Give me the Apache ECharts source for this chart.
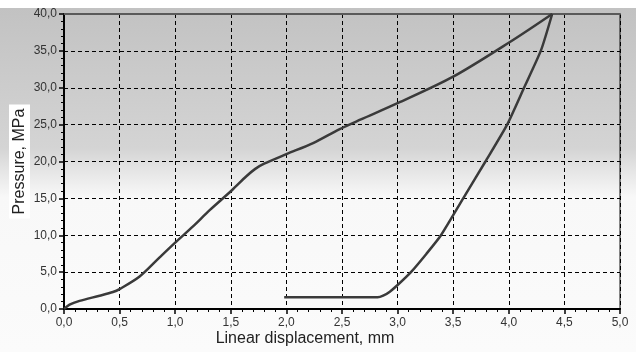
<!DOCTYPE html>
<html>
<head>
<meta charset="utf-8">
<script src="https://cdn.jsdelivr.net/npm/echarts@6/dist/echarts.min.js"></script>
<style>
  html, body { margin: 0; padding: 0; background: #fff; }
  #chart { width: 636px; height: 352px; }
</style>
</head>
<body>
<div id="chart"></div>
<script>
// loading branch: displacement (mm), pressure (MPa)
const loadX = [0.0, 0.05, 0.14, 0.32, 0.44, 0.50, 0.68, 0.86, 1.00, 1.16, 1.31, 1.51, 1.64, 1.72, 1.80, 2.00, 2.24, 2.48, 2.67, 3.00, 3.50, 4.01, 4.39]
const loadY = [0.0, 0.6, 1.1, 1.8, 2.3, 2.7, 4.4, 7.0, 9.0, 11.2, 13.4, 16.1, 18.0, 19.0, 19.7, 21.0, 22.5, 24.4, 25.7, 27.9, 31.5, 36.2, 40.0]
// unloading branch
const unloadX = [4.39, 4.29, 4.14, 3.985, 3.79, 3.59, 3.39, 3.26, 3.12, 3.00, 2.93, 2.87, 2.82, 1.98]
const unloadY = [40.0, 35.1, 30.1, 25.0, 20.0, 15.0, 10.0, 7.5, 5.0, 3.25, 2.35, 1.8, 1.58, 1.58]

const xName = 'Linear displacement, mm'
const yName = 'Pressure, MPa'

// 逗号小数
const fmtComma = v => v.toFixed(1).replace('.', ',')
const loadPts = loadX.map((x, i) => [x, loadY[i]])
const unloadPts = unloadX.map((x, i) => [x, unloadY[i]])

const lineSeries = (data, s) => ({
  type: 'line',
  data: data,
  showSymbol: false,
  smooth: s,
  lineStyle: { color: '#3a3a3a', width: 2.5 },
  z: 5
})

const chart = echarts.init(document.getElementById('chart'))
chart.setOption({
  animation: false,
  backgroundColor: {
    type: 'linear', x: 0, y: 0, x2: 0, y2: 1,
    colorStops: [
      { offset: 0, color: '#ffffff' },
      { offset: 0.022, color: '#ffffff' },
      { offset: 0.023, color: '#c2c2c2' },
      { offset: 0.42, color: '#d4d4d4' },
      { offset: 0.48, color: '#e4e4e4' },
      { offset: 0.56, color: '#f8f8f8' },
      { offset: 1, color: '#fbfbfb' }
    ]
  },
  grid: {
    left: 64, right: 16, top: 14, bottom: 43,
    containLabel: false, outerBoundsMode: 'none',
    show: true, borderColor: '#111', borderWidth: 1
  },
  xAxis: [{
    type: 'value', min: 0, max: 5, interval: 0.5,
    name: xName, nameLocation: 'middle', nameGap: 22, nameMoveOverlap: false,
    nameTextStyle: { fontFamily: 'Liberation Sans', fontSize: 16, color: '#222', padding: [0, 74, 0, 0] },
    axisLine: { lineStyle: { color: '#000', width: 2 } },
    axisTick: { show: true, length: 5, lineStyle: { color: '#000', width: 1.5 } },
    minorTick: { show: true, splitNumber: 5, length: 3, lineStyle: { color: '#000' } },
    axisLabel: { formatter: fmtComma, fontFamily: 'Liberation Sans', fontSize: 12, color: '#333', margin: 8 },
    splitLine: { show: true, lineStyle: { color: '#000', type: [4, 3], width: 1 } }
  }, {
    type: 'value', min: 0, max: 5, position: 'top',
    axisLine: { show: true, lineStyle: { color: '#5a5a5a', width: 2 } },
    axisTick: { show: false }, axisLabel: { show: false }, splitLine: { show: false }
  }],
  yAxis: {
    type: 'value', min: 0, max: 40, interval: 5,
    name: yName, nameLocation: 'middle', nameGap: 34, nameMoveOverlap: false,
    nameTextStyle: { fontFamily: 'Liberation Sans', fontSize: 16, color: '#222', backgroundColor: '#fff', padding: [3, 4, 2, 4] },
    axisLine: { lineStyle: { color: '#000', width: 2 } },
    axisTick: { show: true, length: 5, lineStyle: { color: '#000', width: 1.5 } },
    minorTick: { show: true, splitNumber: 5, length: 3, lineStyle: { color: '#000' } },
    axisLabel: { formatter: fmtComma, fontFamily: 'Liberation Sans', fontSize: 12, color: '#333', margin: 7 },
    splitLine: { show: true, lineStyle: { color: '#000', type: [4, 3], width: 1 } }
  },
  series: [lineSeries(loadPts, 0.3), lineSeries(unloadPts, 0.2)]
})
</script>
</body>
</html>
